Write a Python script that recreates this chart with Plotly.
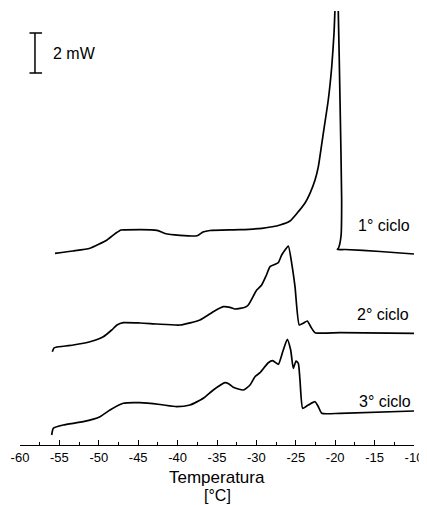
import plotly.graph_objects as go

# Temperature [°C] and heat-flow (mW, stacked with offsets)
cycle1_T = [-55.56, -53.27, -51.12, -48.96, -47.82, -47.18, -46.68, -42.61, -41.60, -39.70,
            -37.54, -36.78, -35.89, -32.08, -29.29, -27.00, -25.74, -24.85, -23.83, -23.20,
            -22.56, -22.14, -21.51, -20.88, -20.44, -20.15, -19.81, -19.61, -19.39, -19.18,
            -19.26, -19.58, -19.73, -18.76, -14.31, -10.00]
cycle1_mW = [9.585, 9.70, 9.835, 10.25, 10.60, 10.75, 10.76, 10.735, 10.575, 10.485,
             10.46, 10.65, 10.725, 10.765, 10.835, 11.00, 11.20, 11.585, 12.10, 12.585,
             13.25, 13.915, 15.585, 17.25, 18.915, 20.585, 23.75, 21.70, 17.25, 12.25,
             10.45, 9.85, 9.775, 9.775, 9.675, 9.55]

cycle2_T = [-55.90, -55.69, -55.43, -53.24, -51.12, -49.43, -48.36, -47.69, -46.89, -44.77,
            -42.65, -39.70, -37.16, -35.47, -34.20, -33.35, -32.72, -31.45, -31.03, -29.96,
            -29.33, -28.78, -28.27, -27.64, -27.22, -26.79, -26.37, -25.95, -25.52, -25.10,
            -24.56, -24.05, -23.54, -23.11, -22.56, -19.39, -10.00]
cycle2_mW = [4.665, 4.85, 4.89, 5.00, 5.165, 5.415, 5.75, 6.00, 6.115, 6.10,
             6.05, 6.00, 6.25, 6.665, 6.915, 6.885, 6.80, 6.885, 7.00, 7.75,
             8.00, 8.45, 8.915, 9.035, 9.115, 9.50, 9.75, 9.95, 9.085, 7.915,
             6.00, 6.085, 6.20, 5.915, 5.615, 5.615, 5.585]

cycle3_T = [-55.98, -55.77, -54.51, -51.97, -49.85, -48.58, -46.89, -44.77, -42.23, -40.11,
            -38.43, -36.74, -35.47, -33.98, -33.48, -32.93, -31.66, -30.81, -30.18, -29.54,
            -28.49, -27.93, -27.22, -26.66, -26.08, -25.65, -25.32, -24.97, -24.68, -24.47,
            -24.12, -23.41, -22.56, -22.14, -21.71, -19.39, -10.00]
cycle3_mW = [0.50, 0.835, 1.00, 1.165, 1.415, 1.75, 2.085, 2.115, 2.025, 1.915,
             2.00, 2.335, 2.75, 3.115, 3.05, 2.885, 2.75, 3.00, 3.415, 3.615,
             4.115, 4.215, 4.035, 4.665, 5.285, 4.75, 3.835, 4.20, 4.085, 3.25,
             1.835, 2.00, 2.165, 1.915, 1.585, 1.585, 1.70]

cycle_labels = ["1° ciclo", "2° ciclo", "3° ciclo"]
label_T = [-10.25, -10.42, -10.13]
label_mW = [10.965, 6.535, 2.165]

x_ticks = [-60, -55, -50, -45, -40, -35, -30, -25, -20, -15, -10]
scale_bar_mW = 2
scale_bar_base = 18.6
scale_bar_T = -58.1

FONT = "Liberation Sans, Arial, sans-serif"

fig = go.Figure()
for T, Q in [(cycle1_T, cycle1_mW), (cycle2_T, cycle2_mW), (cycle3_T, cycle3_mW)]:
    fig.add_trace(go.Scatter(x=T, y=Q, mode="lines",
                             line=dict(color="black", width=1.7, shape="spline", smoothing=0.5),
                             showlegend=False, hoverinfo="skip"))

# scale bar (2 mW)
fig.add_shape(type="line", xref="x", yref="y", x0=scale_bar_T, x1=scale_bar_T,
              y0=scale_bar_base, y1=scale_bar_base + scale_bar_mW, line=dict(color="black", width=1.5))
for yy in [scale_bar_base, scale_bar_base + scale_bar_mW]:
    fig.add_shape(type="line", xref="x", yref="y", x0=scale_bar_T - 0.7, x1=scale_bar_T + 0.9,
                  y0=yy, y1=yy, line=dict(color="black", width=1.5))
fig.add_annotation(x=-56.1, y=scale_bar_base + scale_bar_mW / 2, xref="x", yref="y",
                   text=f"{scale_bar_mW} mW", showarrow=False, xanchor="left", yanchor="middle",
                   font=dict(family=FONT, size=16, color="black"))

for txt, tx, ty in zip(cycle_labels, label_T, label_mW):
    fig.add_annotation(x=tx, y=ty, xref="x", yref="y", text=txt, showarrow=False,
                       xanchor="right", yanchor="middle",
                       font=dict(family=FONT, size=16, color="black"))

# axis title (two lines)
fig.add_annotation(x=0.5, y=0, xref="paper", yref="paper", text="Temperatura", showarrow=False,
                   xanchor="center", yanchor="middle", yshift=-32,
                   font=dict(family=FONT, size=17, color="black"))
fig.add_annotation(x=0.5, y=0, xref="paper", yref="paper", text="[°C]", showarrow=False,
                   xanchor="center", yanchor="middle", yshift=-50,
                   font=dict(family=FONT, size=16, color="black"))

# page body has an 8px default margin, so the figure is sized/offset to compensate
fig.update_layout(
    width=419, height=497,
    margin=dict(l=12, r=13, t=3, b=60),
    plot_bgcolor="white", paper_bgcolor="white",
    xaxis=dict(range=[-60, -10], tickvals=x_ticks, ticktext=[str(v) for v in x_ticks],
               showline=True, linecolor="black", linewidth=1.2,
               ticks="inside", ticklen=5, tickwidth=1.2, tickcolor="black",
               minor=dict(dtick=2.5, ticks="inside", ticklen=2.5, tickwidth=1.2, tickcolor="black"),
               showgrid=False, zeroline=False,
               tickfont=dict(family=FONT, size=13, color="black")),
    yaxis=dict(range=[0, 21.7], visible=False, showgrid=False, zeroline=False),
)

fig.write_html("out.html", config={"displayModeBar": False})
